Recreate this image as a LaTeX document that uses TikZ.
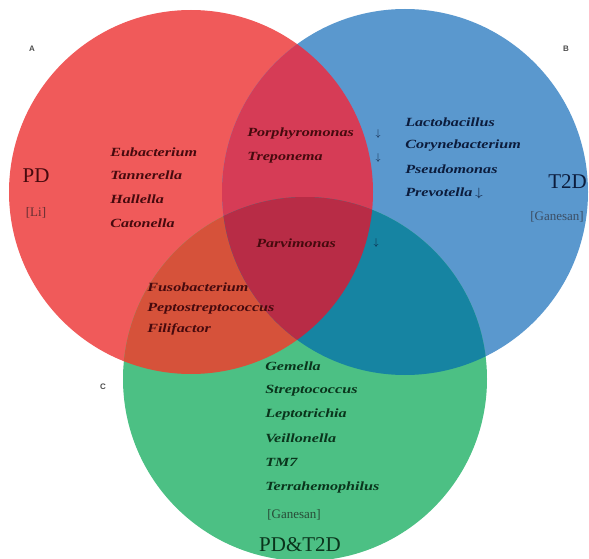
\documentclass[tikz,border=0pt]{standalone}
\usepackage{fontspec}
\setmainfont{Liberation Serif}
\setsansfont{Liberation Sans}
\usetikzlibrary{positioning}
\definecolor{setA}{RGB}{240,90,90}
\definecolor{setB}{RGB}{90,152,206}
\definecolor{setC}{RGB}{76,192,132}
\definecolor{setAB}{RGB}{214,60,86}
\definecolor{setAC}{RGB}{214,82,58}
\definecolor{setBC}{RGB}{22,132,162}
\definecolor{setABC}{RGB}{184,44,70}
\definecolor{txtA}{RGB}{70,10,14}
\definecolor{txtB}{RGB}{12,28,60}
\definecolor{txtC}{RGB}{10,52,28}
\definecolor{srcB}{RGB}{60,78,100}
\definecolor{srcC}{RGB}{40,75,55}
\begin{document}
\begin{tikzpicture}[x=1pt, y=-1pt,
	genus/.style={anchor=west, font=\fontsize{12.5}{13}\selectfont\bfseries\itshape, xscale=1.29, inner sep=0pt},
	setname/.style={font=\fontsize{21}{22}\selectfont, inner sep=0pt},
	source/.style={font=\fontsize{13}{14}\selectfont, inner sep=0pt},
	corner/.style={font=\sffamily\bfseries\fontsize{8}{8}\selectfont, text=black!70, inner sep=0pt},
	down/.style={font=\fontsize{10}{10}\selectfont, inner sep=0pt}]
	\useasboundingbox (0,0) rectangle (589,559);
	\def\circA{(191,192) circle[radius=182pt]}
	\def\circB{(405,192) circle[radius=183pt]}
	\def\circC{(305,379) circle[radius=182pt]}
	\fill[setA] \circA;
	\fill[setB] \circB;
	\fill[setC] \circC;
	\begin{scope}\clip \circA; \fill[setAB] \circB; \end{scope}
	\begin{scope}\clip \circA; \fill[setAC] \circC; \end{scope}
	\begin{scope}\clip \circB; \fill[setBC] \circC; \end{scope}
	\begin{scope}\clip \circA; \clip \circB; \fill[setABC] \circC; \end{scope}

	\node[corner] (lblA) at (32,49) {A};
	\node[corner] (lblB) at (566,49) {B};
	\node[corner] (lblC) at (103,387) {C};

	\node[setname, text=txtA] (pd) at (36,176) {PD};
	\node[source, text=txtA!85] (li) at (36,213) {[Li]};
	\node[setname, text=txtB, anchor=east] (t2d) at (587,182) {T2D};
	\node[source, text=srcB, anchor=east] (ganB) at (584,217) {[Ganesan]};
	\node[source, text=srcC] (ganC) at (294,515) {[Ganesan]};
	\node[setname, text=txtC] (pdt2d) at (300,545) {PD\&T2D};

	\node[genus, text=txtA] (eub) at (110,152) {Eubacterium};
	\node[genus, text=txtA] (tan) at (110,175) {Tannerella};
	\node[genus, text=txtA] (hal) at (110,199) {Hallella};
	\node[genus, text=txtA] (cat) at (110,223) {Catonella};

	\node[genus, text=txtA] (por) at (247,134) {Porphyromonas};
	\node[genus, text=txtA] (tre) at (247,158) {Treponema};
	\node[genus, text=txtA] (par) at (256,243) {Parvimonas};
	\node[down, text=txtB] (dpor) at (378,134) {$\downarrow$};
	\node[down, text=txtB] (dtre) at (378,158) {$\downarrow$};
	\node[down, text=txtB] (dpar) at (376,243) {$\downarrow$};

	\node[genus, text=txtB] (lac) at (405,122) {Lactobacillus};
	\node[genus, text=txtB] (cor) at (405,146) {Corynebacterium};
	\node[genus, text=txtB] (pse) at (405,169) {Pseudomonas};
	\node[genus, text=txtB] (pre) at (405,193) {Prevotella\,\upshape$\downarrow$};

	\node[genus, text=txtA] (fus) at (147,287) {Fusobacterium};
	\node[genus, text=txtA] (pep) at (147,309) {Peptostreptococcus};
	\node[genus, text=txtA] (fil) at (147,329) {Filifactor};

	\node[genus, text=txtC] (gem) at (265,366) {Gemella};
	\node[genus, text=txtC] (str) at (265,391) {Streptococcus};
	\node[genus, text=txtC] (lep) at (265,414) {Leptotrichia};
	\node[genus, text=txtC] (vei) at (265,438) {Veillonella};
	\node[genus, text=txtC] (tm) at (265,462) {TM7};
	\node[genus, text=txtC] (ter) at (265,487) {Terrahemophilus};
\end{tikzpicture}
\end{document}
